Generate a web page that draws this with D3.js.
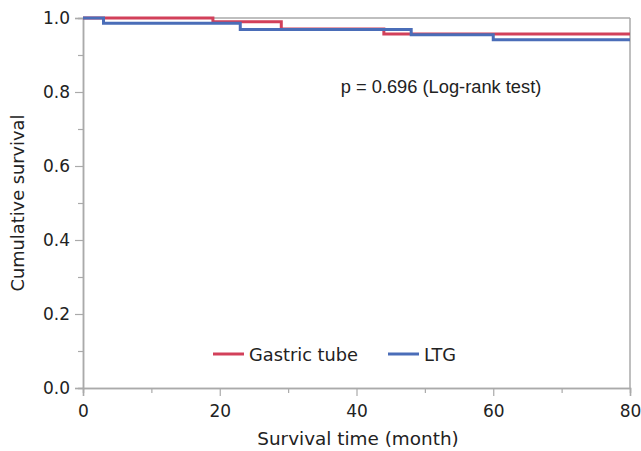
<!DOCTYPE html>
<html>
<head>
<meta charset="utf-8">
<script src="https://cdn.jsdelivr.net/npm/d3@7"></script>
<style>
  body { margin: 0; background: #fff; }
  svg { display: block; }
  .tick text { font-family: "DejaVu Sans", Verdana, sans-serif; font-size: 17px; fill: #222; }
</style>
</head>
<body>
<svg id="chart" width="641" height="451"></svg>
<script>
// step points: [time, survival]
let gastricTime = [0, 19, 29, 44, 80];
let gastricSurv = [1.0, 0.990, 0.970, 0.957, 0.957];
let ltgTime = [0, 3, 23, 48, 60, 80];
let ltgSurv = [1.0, 0.986, 0.969, 0.955, 0.941, 0.941];

let seriesNames = ["Gastric tube", "LTG"];
let seriesColors = ["#d2405a", "#4a6db8"];

let xTicks = [0, 20, 40, 60, 80];
let xMinor = [10, 30, 50, 70];
let yTicks = [0, 0.2, 0.4, 0.6, 0.8, 1.0];
let yMinor = [0.1, 0.3, 0.5, 0.7, 0.9];

let pText = "p = 0.696 (Log-rank test)";

let svg = d3.select("#chart");
let plotL = 83, plotR = 630, plotT = 18, plotB = 388;

let x = d3.scaleLinear().domain([0, 80]).range([plotL, plotR]);
let y = d3.scaleLinear().domain([0, 1]).range([plotB, plotT]);

let axisColor = "#aaa";

// frame top and right
svg.append("line")
    .attr("x1", plotL).attr("x2", plotR).attr("y1", plotT).attr("y2", plotT)
    .attr("stroke", axisColor).attr("stroke-width", 1.5);
svg.append("line")
    .attr("x1", plotR).attr("x2", plotR).attr("y1", plotT).attr("y2", plotB)
    .attr("stroke", axisColor).attr("stroke-width", 1.5);

function styleAxis(g) {
  g.select(".domain").attr("stroke", axisColor).attr("stroke-width", 1.5);
  g.selectAll(".tick line").attr("stroke", axisColor).attr("stroke-width", 1.2);
}

// minor ticks
svg.append("g")
    .attr("transform", "translate(0," + plotB + ")")
    .call(d3.axisBottom(x).tickValues(xMinor).tickSize(5).tickFormat(""))
    .call(styleAxis);
svg.append("g")
    .attr("transform", "translate(" + plotL + ",0)")
    .call(d3.axisLeft(y).tickValues(yMinor).tickSize(5).tickFormat(""))
    .call(styleAxis);

// major axes
svg.append("g")
    .attr("transform", "translate(0," + plotB + ")")
    .call(d3.axisBottom(x).tickValues(xTicks).tickSize(8).tickPadding(9).tickFormat(d3.format("d")))
    .call(styleAxis);
svg.append("g")
    .attr("transform", "translate(" + plotL + ",0)")
    .call(d3.axisLeft(y).tickValues(yTicks).tickSize(8).tickPadding(5).tickFormat(d3.format(".1f")))
    .call(styleAxis);

// axis titles
svg.append("text")
    .attr("x", 358).attr("y", 445)
    .attr("text-anchor", "middle")
    .style("font-family", "DejaVu Sans, Verdana, sans-serif")
    .style("font-size", "18.4px").attr("fill", "#222")
    .text("Survival time (month)");
svg.append("text")
    .attr("transform", "translate(24," + ((plotT + plotB) / 2) + ") rotate(-90)")
    .attr("text-anchor", "middle")
    .style("font-family", "DejaVu Sans, Verdana, sans-serif")
    .style("font-size", "17.8px").attr("fill", "#222")
    .text("Cumulative survival");

// curves
let stepLine = d3.line()
    .x(function(d) { return x(d[0]); })
    .y(function(d) { return y(d[1]); })
    .curve(d3.curveStepAfter);

let series = [d3.zip(gastricTime, gastricSurv), d3.zip(ltgTime, ltgSurv)];
series.forEach(function(pts, i) {
  svg.append("path")
      .datum(pts)
      .attr("fill", "none")
      .attr("stroke", seriesColors[i])
      .attr("stroke-width", 3)
      .attr("d", stepLine);
});

// p value
svg.append("text")
    .attr("x", 441).attr("y", 93)
    .attr("text-anchor", "middle")
    .style("font-family", "Liberation Sans, Arial, sans-serif")
    .style("font-size", "18.3px").attr("fill", "#222")
    .text(pText);

// legend
let legendX = [213, 388];
seriesNames.forEach(function(name, i) {
  let g = svg.append("g").attr("transform", "translate(" + legendX[i] + ",354)");
  g.append("line").attr("x1", 0).attr("x2", 31).attr("y1", 0).attr("y2", 0)
      .attr("stroke", seriesColors[i]).attr("stroke-width", 3);
  g.append("text").attr("x", 36).attr("y", 6.5)
      .style("font-family", "DejaVu Sans, Verdana, sans-serif")
      .style("font-size", "17.8px").attr("fill", "#222")
      .text(name);
});
</script>
</body>
</html>
